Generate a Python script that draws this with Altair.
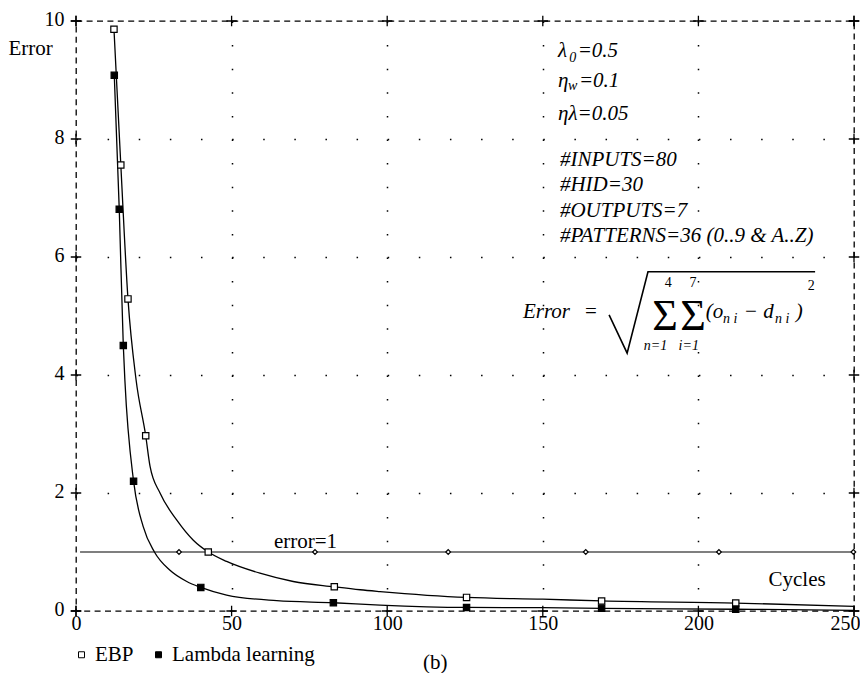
import altair as alt
import pandas as pd

SERIF = "'Liberation Serif', 'Times New Roman', Times, serif"

# ---- axis ticks ----
x_ticks = [0, 50, 100, 150, 200, 250]
y_ticks = [0, 2, 4, 6, 8, 10]

# ---- curves ----
ebp_curve_x = [12.2, 14.4, 16.7, 19.3, 22.4, 23.8, 27.0, 32.4, 37.7, 42.5, 48.4, 59.1, 69.8, 83.0, 91.3, 97.7, 125.5, 150.0, 168.9, 212.0, 250.0]
ebp_curve_y = [9.86, 7.56, 5.29, 3.92, 2.97, 2.45, 2.00, 1.54, 1.20, 1.00, 0.84, 0.64, 0.50, 0.41, 0.36, 0.33, 0.23, 0.20, 0.17, 0.135, 0.08]
lam_curve_x = [12.3, 13.9, 15.2, 15.7, 18.5, 21.6, 25.2, 30.2, 35.6, 40.1, 48.4, 64.5, 82.7, 97.7, 125.5, 150.0, 168.9, 212.0, 250.0]
lam_curve_y = [9.08, 6.81, 4.50, 3.92, 2.20, 1.43, 1.00, 0.69, 0.50, 0.40, 0.27, 0.175, 0.14, 0.10, 0.06, 0.056, 0.045, 0.03, 0.01]

# ---- markers ----
ebp_mark_x = [12.2, 14.4, 16.7, 22.4, 42.5, 83.0, 125.5, 168.9, 212.0]
ebp_mark_y = [9.86, 7.56, 5.29, 2.97, 1.00, 0.41, 0.23, 0.17, 0.135]
lam_mark_x = [12.3, 13.9, 15.2, 18.5, 40.1, 82.7, 125.5, 168.9, 212.0]
lam_mark_y = [9.08, 6.81, 4.50, 2.20, 0.40, 0.14, 0.06, 0.045, 0.03]

# ---- error = 1 reference ----
ref_line_x = [1.3, 250.0]
ref_line_y = [1.0, 1.0]
ref_mark_x = [33.1, 76.8, 119.6, 163.8, 206.6, 249.8]
ref_mark_y = [1.0, 1.0, 1.0, 1.0, 1.0, 1.0]

series_order = ["EBP", "Lambda learning"]

# ---- annotation texts: text, x, y, fontsize, style, align ----
ann_text = ["λ", "0", "=0.5", "η", "w", "=0.1", "ηλ=0.05",
            "#INPUTS=80", "#HID=30", "#OUTPUTS=7", "#PATTERNS=36 (0..9 & A..Z)",
            "Error", "=", "Σ", "Σ", "4", "7", "n=1", "i=1",
            "(o", "n i", "− d", "n i", ")", "2",
            "error=1", "(b)"]
ann_x = [154.9, 158.5, 161.2, 154.9, 158.1, 161.6, 154.9,
         155.5, 155.5, 155.5, 155.5,
         143.6, 163.6, 189.3, 198.3, 190.3, 198.3, 186.2, 196.9,
         202.4, 207.9, 214.6, 224.6, 231.3, 235.1,
         63.6, 111.5]
ann_y = [9.39, 9.31, 9.39, 8.88, 8.83, 8.88, 8.32,
         7.54, 7.12, 6.68, 6.25,
         4.97, 4.97, 4.76, 4.76, 5.49, 5.49, 4.42, 4.42,
         4.97, 4.88, 4.97, 4.88, 4.97, 5.44,
         1.07, -0.99]
ann_size = [21, 14, 21, 21, 14, 21, 21,
            21, 21, 21, 21,
            21, 21, 44, 44, 14, 14, 14, 14,
            21, 14, 21, 14, 21, 14,
            21, 21]
ann_style = ["italic"] * 11 + ["italic", "normal", "normal", "normal", "normal", "normal", "italic", "italic",
             "italic", "italic", "italic", "italic", "italic", "normal", "normal", "normal"]
ann_align = ["left"] * 13 + ["center"] * 6 + ["left"] * 8

# radical sign of the formula
rad_x = [171.3, 177.1, 183.8, 237.5]
rad_y = [5.02, 4.37, 5.75, 5.75]

# ---- tables ----
curves = pd.DataFrame({
    "x": ebp_curve_x + lam_curve_x,
    "y": ebp_curve_y + lam_curve_y,
    "series": ["EBP"] * len(ebp_curve_x) + ["Lambda learning"] * len(lam_curve_x),
})
markers = pd.DataFrame({
    "x": ebp_mark_x + lam_mark_x,
    "y": ebp_mark_y + lam_mark_y,
    "series": ["EBP"] * len(ebp_mark_x) + ["Lambda learning"] * len(lam_mark_x),
})
ref_line = pd.DataFrame({"x": ref_line_x, "y": ref_line_y})
ref_marks = pd.DataFrame({"x": ref_mark_x, "y": ref_mark_y})
ann = pd.DataFrame({"text": ann_text, "x": ann_x, "y": ann_y, "fs": ann_size,
                    "style": ann_style, "align": ann_align})
rad = pd.DataFrame({"x": rad_x, "y": rad_y, "o": list(range(len(rad_x)))})
crosses = pd.DataFrame({
    "x": x_ticks + x_ticks + [0] * len(y_ticks) + [250] * len(y_ticks),
    "y": [0] * len(x_ticks) + [10] * len(x_ticks) + y_ticks + y_ticks,
})

xscale = alt.Scale(domain=[0, 250], nice=False, zero=False)
yscale = alt.Scale(domain=[0, 10], nice=False, zero=False)

x_axis = alt.Axis(
    values=x_ticks, grid=True, gridDash=[1.5, 22.1], gridWidth=1.5, gridColor="black",
    gridOpacity=alt.condition("datum.value == 0 || datum.value == 250", alt.value(0), alt.value(1)),
    domain=False, ticks=False, labelFont=SERIF, labelFontSize=20, labelColor="black",
    labelPadding=2, labelFlush=False,
    labelAlign=alt.condition("datum.value == 250", alt.value("right"), alt.value("center")),
    labelOffset=alt.condition("datum.value == 250", alt.value(6), alt.value(0)),
    title="Cycles", titleFont=SERIF, titleFontSize=21, titleFontWeight="normal", titleColor="black",
    titleX=692, titleY=-26, titleAlign="left", titleBaseline="alphabetic", titleAngle=0,
)
y_axis = alt.Axis(
    values=y_ticks, grid=True, gridDash=[1.5, 29.62], gridWidth=1.5, gridColor="black",
    gridOpacity=alt.condition("datum.value == 0 || datum.value == 10", alt.value(0), alt.value(1)),
    domain=False, ticks=False, labelFont=SERIF, labelFontSize=20, labelColor="black",
    labelPadding=12, labelFlush=False, labelOffset=-2,
    title="Error", titleFont=SERIF, titleFontSize=21, titleFontWeight="normal", titleColor="black",
    titleAngle=0, titleX=-68, titleY=27, titleAlign="left", titleBaseline="middle",
)

X = alt.X("x:Q", scale=xscale, axis=x_axis)
Y = alt.Y("y:Q", scale=yscale, axis=y_axis)

lines = alt.Chart(curves).mark_line(color="black", strokeWidth=1.3, interpolate="monotone").encode(
    x=X, y=Y, detail="series:N",
)

pts = alt.Chart(markers).mark_point(shape="square", size=40, stroke="black", strokeWidth=1.2,
                                    opacity=1, filled=False).encode(
    x=X, y=Y,
    fill=alt.Fill("series:N", scale=alt.Scale(domain=series_order, range=["white", "black"]),
                  legend=alt.Legend(orient="none", legendX=-5, legendY=623, direction="horizontal",
                                    title=None, symbolType="square", symbolSize=36,
                                    symbolStrokeColor="black", symbolStrokeWidth=1,
                                    labelFont=SERIF, labelFontSize=21, labelColor="black",
                                    labelOffset=3, columnPadding=14, padding=0)),
)

refl = alt.Chart(ref_line).mark_line(color="black", strokeWidth=1.2).encode(x=X, y=Y)
refp = alt.Chart(ref_marks).mark_point(shape="diamond", size=22, stroke="black", fill="white",
                                       filled=True, strokeWidth=1.2, opacity=1).encode(x=X, y=Y)

cross = alt.Chart(crosses).mark_point(shape="M-1,0L1,0M0,-1L0,1", size=110, stroke="black",
                                      strokeWidth=1.3, filled=False, opacity=1).encode(x=X, y=Y)

radical = alt.Chart(rad).mark_line(color="black", strokeWidth=1.6).encode(x=X, y=Y, order="o:Q")


def text_layer(style, align):
    return alt.Chart(ann).transform_filter(
        f"datum.style == '{style}' && datum.align == '{align}'"
    ).mark_text(font=SERIF, fontStyle=style, align=align, baseline="alphabetic", color="black").encode(
        x=X, y=Y,
        text="text:N",
        size=alt.Size("fs:Q", scale=None, legend=None),
    )


texts = [text_layer(s, a) for s in ["italic", "normal"] for a in ["left", "center"]]

chart = alt.layer(lines, refl, refp, pts, cross, radical, *texts).properties(
    width=778, height=590,
    autosize=alt.AutoSizeParams(type="none"),
    padding={"left": 68, "top": 13, "right": 6, "bottom": 62},
    background="white",
).configure_view(
    stroke="black", strokeDash=[6, 4.4], strokeWidth=1.3
)

chart.save("out.html", embed_options={"renderer": "svg", "actions": False})
